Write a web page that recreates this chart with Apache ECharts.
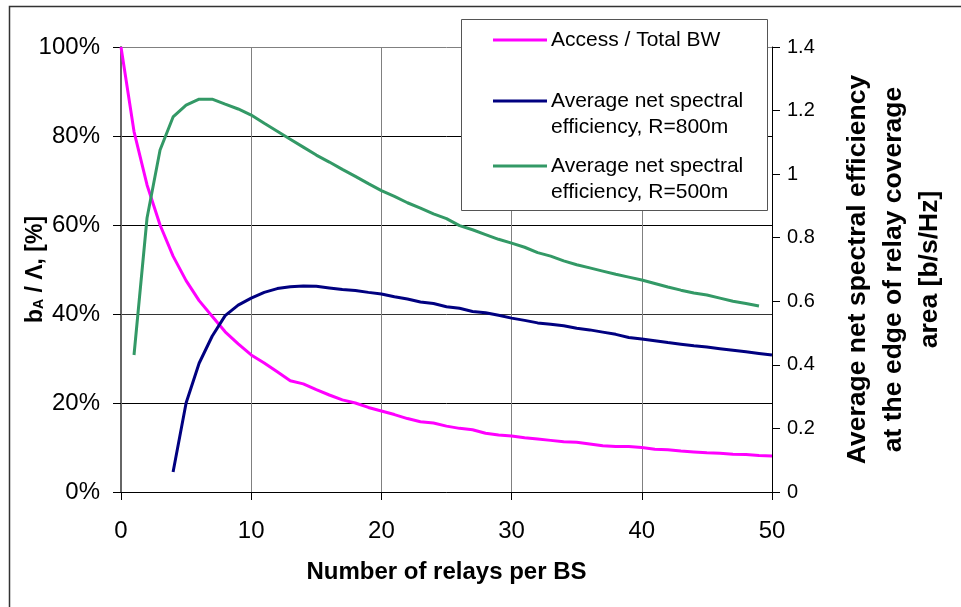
<!DOCTYPE html>
<html>
<head>
<meta charset="utf-8">
<script src="https://cdn.jsdelivr.net/npm/echarts@6/dist/echarts.min.js"></script>
<style>html,body{margin:0;padding:0;background:#fff}#c{width:961px;height:607px}</style>
</head>
<body>
<div id="c"></div>
<script>
// Number of relays per BS (x positions 0..50)
const relays = [0,1,2,3,4,5,6,7,8,9,10,11,12,13,14,15,16,17,18,19,20,21,22,23,24,25,26,27,28,29,30,31,32,33,34,35,36,37,38,39,40,41,42,43,44,45,46,47,48,49,50];
// Access / Total BW [%]
const accessBW = [100,81,69,60,53,47.5,43,39.5,36,33.3,30.8,29,27,25,24.3,23,21.8,20.7,20,19,18.2,17.4,16.5,15.8,15.5,14.8,14.3,14,13.2,12.8,12.6,12.2,11.9,11.6,11.3,11.2,10.8,10.4,10.2,10.2,10.0,9.6,9.5,9.2,9.0,8.8,8.7,8.5,8.4,8.2,8.1];
// Average net spectral efficiency, R=800m [b/s/Hz]
const eff800 = [null,null,null,null,0.063,0.28,0.405,0.49,0.555,0.588,0.61,0.628,0.64,0.646,0.648,0.647,0.642,0.637,0.634,0.628,0.623,0.614,0.607,0.598,0.593,0.583,0.578,0.568,0.564,0.556,0.547,0.54,0.532,0.528,0.523,0.515,0.51,0.503,0.496,0.486,0.481,0.476,0.47,0.465,0.46,0.456,0.451,0.446,0.441,0.436,0.431];
// Average net spectral efficiency, R=500m [b/s/Hz]
const eff500 = [null,0.431,0.862,1.076,1.18,1.217,1.236,1.236,1.22,1.205,1.186,1.16,1.135,1.11,1.085,1.06,1.038,1.015,0.993,0.97,0.948,0.93,0.91,0.893,0.875,0.86,0.838,0.825,0.81,0.795,0.783,0.77,0.753,0.742,0.727,0.715,0.705,0.695,0.685,0.676,0.667,0.656,0.645,0.635,0.626,0.62,0.61,0.6,0.593,0.585,null];
const seriesNames = ['Access / Total BW', 'Average net spectral\nefficiency, R=800m', 'Average net spectral\nefficiency, R=500m'];
const seriesColors = ['#FF00FF', '#000080', '#339966'];
const xName = 'Number of relays per BS';
const rightName = 'Average net spectral efficiency\nat the edge of relay coverage\narea [b/s/Hz]';

const FONT = '"Liberation Sans", Arial, sans-serif';
const pair = arr => arr.map((v, i) => [relays[i], v]);

const chart = echarts.init(document.getElementById('c'), null, {renderer: 'canvas'});

const legendItems = [];
const legendY = [40, 101, 166];
seriesNames.forEach((n, i) => {
  legendItems.push({
    type: 'line', z: 101,
    shape: {x1: 493, y1: legendY[i], x2: 547, y2: legendY[i]},
    style: {stroke: seriesColors[i], lineWidth: 3}
  });
  legendItems.push({
    type: 'text', z: 101,
    x: 551, y: legendY[i] - 13,
    style: {text: n, font: '21px ' + FONT, fill: '#000', lineHeight: 26, textVerticalAlign: 'top'}
  });
});

chart.setOption({
  animation: false,
  textStyle: {fontFamily: FONT},
  grid: {left: 121, right: 189, top: 47, bottom: 115, containLabel: false, outerBoundsMode: 'none'},
  xAxis: {
    type: 'value', min: 0, max: 50, interval: 10,
    name: xName, nameLocation: 'middle', nameGap: 68, nameMoveOverlap: false,
    nameTextStyle: {fontSize: 24, fontWeight: 'bold', color: '#000', fontFamily: FONT},
    axisLine: {show: true, lineStyle: {color: '#000', width: 1}},
    axisTick: {show: true, length: 8, inside: false, lineStyle: {color: '#000'}},
    axisLabel: {fontSize: 24, color: '#000', margin: 27, fontFamily: FONT},
    splitLine: {show: true, lineStyle: {color: '#808080', width: 1}}
  },
  yAxis: [{
    type: 'value', min: 0, max: 100, interval: 20, position: 'left',
    name: '{b|b}{s|A}{b| / Λ, [%]}', nameLocation: 'middle', nameGap: 74, nameRotate: 90, nameMoveOverlap: false,
    nameTextStyle: {
      color: '#000', fontFamily: FONT,
      rich: {
        b: {fontSize: 23, fontWeight: 'bold', color: '#000', fontFamily: FONT},
        s: {fontSize: 14, fontWeight: 'bold', color: '#000', fontFamily: FONT, padding: [8, 0, 0, 0]}
      }
    },
    axisLine: {show: true, lineStyle: {color: '#666', width: 2}},
    axisTick: {show: true, length: 8, lineStyle: {color: '#000'}},
    axisLabel: {fontSize: 24, color: '#000', margin: 21, formatter: '{value}%', fontFamily: FONT},
    splitLine: {show: true, lineStyle: {color: ['#808080', '#000', '#333', '#000', '#000', '#808080'], width: 1}}
  }, {
    type: 'value', min: 0, max: 1.4, interval: 0.2, position: 'right',
    name: rightName, nameLocation: 'middle', nameGap: 68, nameRotate: 90, nameMoveOverlap: false,
    nameTextStyle: {fontSize: 26.5, fontWeight: 'bold', color: '#000', lineHeight: 36, align: 'center', fontFamily: FONT},
    axisLine: {show: true, lineStyle: {color: '#000', width: 1}},
    axisTick: {show: true, length: 8, lineStyle: {color: '#000'}},
    axisLabel: {fontSize: 20, color: '#000', margin: 15, fontFamily: FONT},
    splitLine: {show: false}
  }],
  series: [{
    name: seriesNames[0], type: 'line', yAxisIndex: 0, data: pair(accessBW),
    showSymbol: false, symbol: 'none', lineStyle: {color: seriesColors[0], width: 3}, z: 3
  }, {
    name: seriesNames[1], type: 'line', yAxisIndex: 1, data: pair(eff800),
    showSymbol: false, symbol: 'none', lineStyle: {color: seriesColors[1], width: 3}, z: 4
  }, {
    name: seriesNames[2], type: 'line', yAxisIndex: 1, data: pair(eff500),
    showSymbol: false, symbol: 'none', lineStyle: {color: seriesColors[2], width: 3}, z: 5
  }],
  graphic: [
    {type: 'rect', z: -10, silent: true, shape: {x: 9.5, y: 6.5, width: 1000, height: 700}, style: {fill: 'none', stroke: '#333', lineWidth: 1.5}},
    {type: 'rect', z: 100, shape: {x: 461.5, y: 19.5, width: 306, height: 191}, style: {fill: '#fff', stroke: '#555', lineWidth: 1}}
  ].concat(legendItems)
});
</script>
</body>
</html>
